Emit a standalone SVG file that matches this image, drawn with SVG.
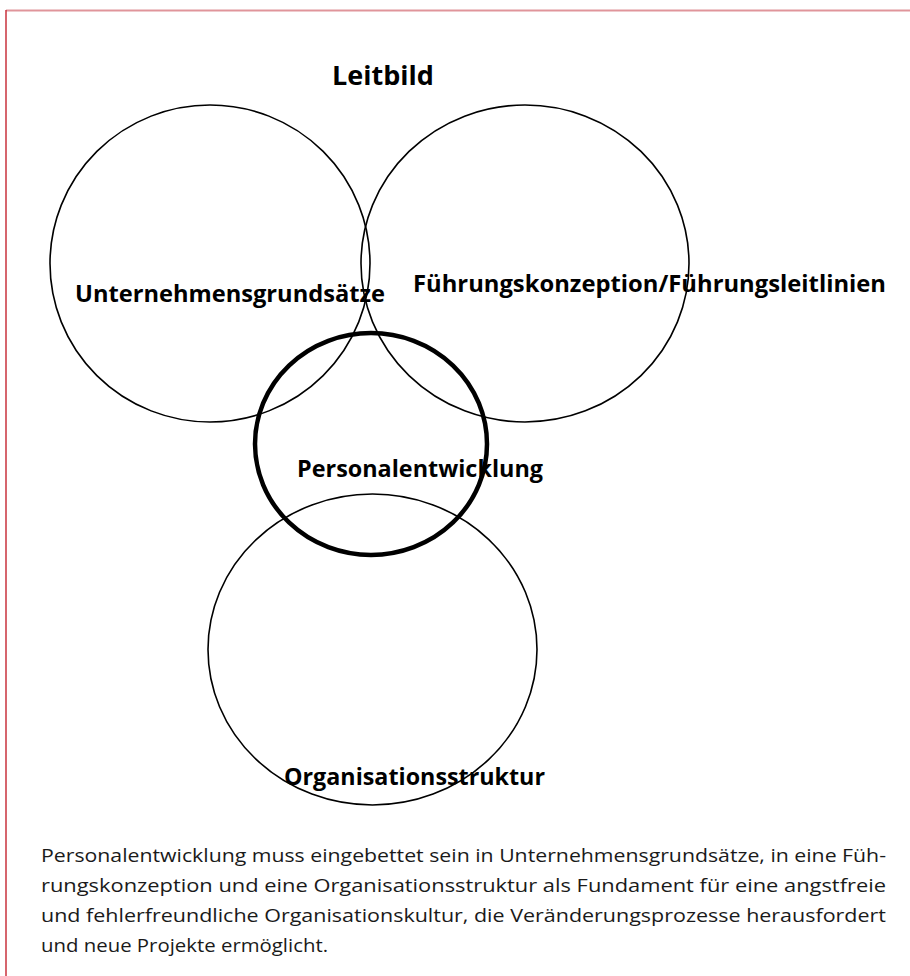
<svg xmlns="http://www.w3.org/2000/svg" width="910" height="976" viewBox="0 0 910 976">
<style>
.c{fill:none;stroke:#000;stroke-width:1.6}
.t{stroke:#000;stroke-width:4.5;fill:none}
.h{font-family:"Open Sans","DejaVu Sans",sans-serif;font-weight:bold;fill:#000;font-size:23px}
.p{font-family:"Open Sans","Noto Sans",sans-serif;font-size:19px;fill:#1a1a1a}
</style>
<rect width="910" height="976" fill="#fff"/>
<line x1="6" y1="10.5" x2="910" y2="10.5" stroke="#e0959b" stroke-width="2"/>
<line x1="6" y1="10" x2="6" y2="976" stroke="#c8323c" stroke-width="1.5"/>
<g id="title"><text class="h" x="383" y="85" style="font-size:27px" text-anchor="middle">Leitbild</text></g>
<g id="unternehmensgrundsaetze">
<ellipse class="c" cx="210" cy="263.5" rx="160" ry="158.5"/>
<text class="h" x="75" y="302" textLength="310" lengthAdjust="spacingAndGlyphs">Unternehmensgrundsätze</text>
</g>
<g id="fuehrungskonzeption">
<ellipse class="c" cx="525" cy="263.5" rx="164" ry="158.5"/>
<text class="h" x="413" y="292" textLength="473" lengthAdjust="spacingAndGlyphs">Führungskonzeption/Führungsleitlinien</text>
</g>
<g id="organisationsstruktur">
<ellipse class="c" cx="372.5" cy="649.5" rx="164.5" ry="155.5"/>
<text class="h" x="284" y="785" textLength="261" lengthAdjust="spacingAndGlyphs">Organisationsstruktur</text>
</g>
<g id="personalentwicklung">
<ellipse class="t" cx="371" cy="444" rx="116" ry="111"/>
<text class="h" x="297" y="477" textLength="246" lengthAdjust="spacingAndGlyphs">Personalentwicklung</text>
</g>
<g id="caption">
<text class="p" x="41" y="862" textLength="845" lengthAdjust="spacingAndGlyphs">Personalentwicklung muss eingebettet sein in Unternehmensgrundsätze, in eine Füh-</text>
<text class="p" x="41" y="892" textLength="845" lengthAdjust="spacingAndGlyphs">rungskonzeption und eine Organisationsstruktur als Fundament für eine angstfreie</text>
<text class="p" x="41" y="922" textLength="845" lengthAdjust="spacingAndGlyphs">und fehlerfreundliche Organisationskultur, die Veränderungsprozesse herausfordert</text>
<text class="p" x="41" y="952" textLength="287" lengthAdjust="spacingAndGlyphs">und neue Projekte ermöglicht.</text>
</g>
</svg>
